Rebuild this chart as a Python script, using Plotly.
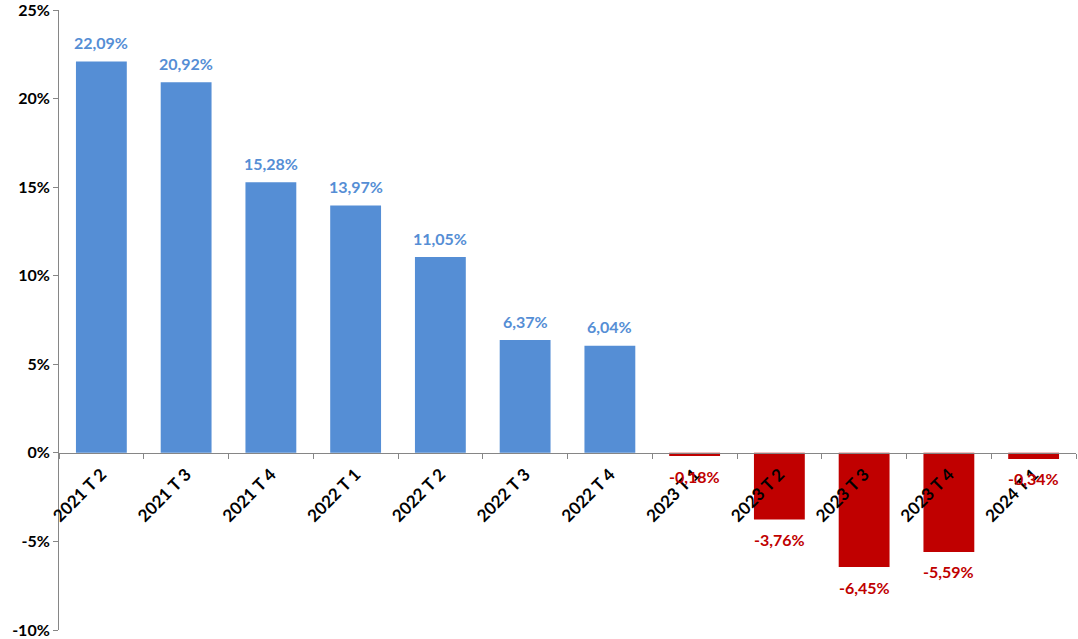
import plotly.graph_objects as go

categories = ["2021 T 2", "2021 T 3", "2021 T 4", "2022 T 1", "2022 T 2", "2022 T 3",
              "2022 T 4", "2023 T 1", "2023 T 2", "2023 T 3", "2023 T 4", "2024 T 1"]
values = [22.09, 20.92, 15.28, 13.97, 11.05, 6.37, 6.04, -0.18, -3.76, -6.45, -5.59, -0.34]
y_ticks = [-10, -5, 0, 5, 10, 15, 20, 25]

BLUE = "#558ED5"
RED = "#C00000"
FONT = "Lato"

colors = [BLUE if v >= 0 else RED for v in values]
labels = [("%.2f%%" % v).replace(".", ",") for v in values]

fig = go.Figure()
fig.add_trace(go.Bar(x=categories, y=values, marker=dict(color=colors, line=dict(width=0)),
                     width=0.6, hoverinfo="skip"))

for c, v, t, col in zip(categories, values, labels, colors):
    fig.add_annotation(x=c, y=v, text="<b>%s</b>" % t, showarrow=False,
                       yshift=19 if v >= 0 else -20,
                       font=dict(family=FONT, size=16, color=col))

ymin, ymax = -10, 25
fig.update_layout(
    width=1078, height=639,
    margin=dict(l=59, r=2, t=10, b=9),
    plot_bgcolor="white", paper_bgcolor="white",
    showlegend=False,
    xaxis=dict(type="category", anchor="free",
               position=(0 - ymin) / (ymax - ymin),
               automargin=False, ticklabelstandoff=4,
               showline=True, linecolor="#868686", linewidth=1,
               ticks="outside", ticklen=5, tickcolor="#868686", tickson="boundaries",
               tickangle=-45, showgrid=False, zeroline=False,
               tickfont=dict(family=FONT, size=17, color="black", weight="bold")),
    yaxis=dict(range=[ymin, ymax], tickvals=y_ticks,
               ticktext=["%d%%" % v for v in y_ticks],
               automargin=False, ticklabeloverflow="allow",
               showline=True, linecolor="#868686", linewidth=1,
               ticks="outside", ticklen=5, tickcolor="#868686",
               showgrid=False, zeroline=False,
               tickfont=dict(family=FONT, size=16, color="black", weight="bold")),
)

fig.write_html("out.html", config={"displayModeBar": False},
               post_script="document.body.style.margin='0px';")
